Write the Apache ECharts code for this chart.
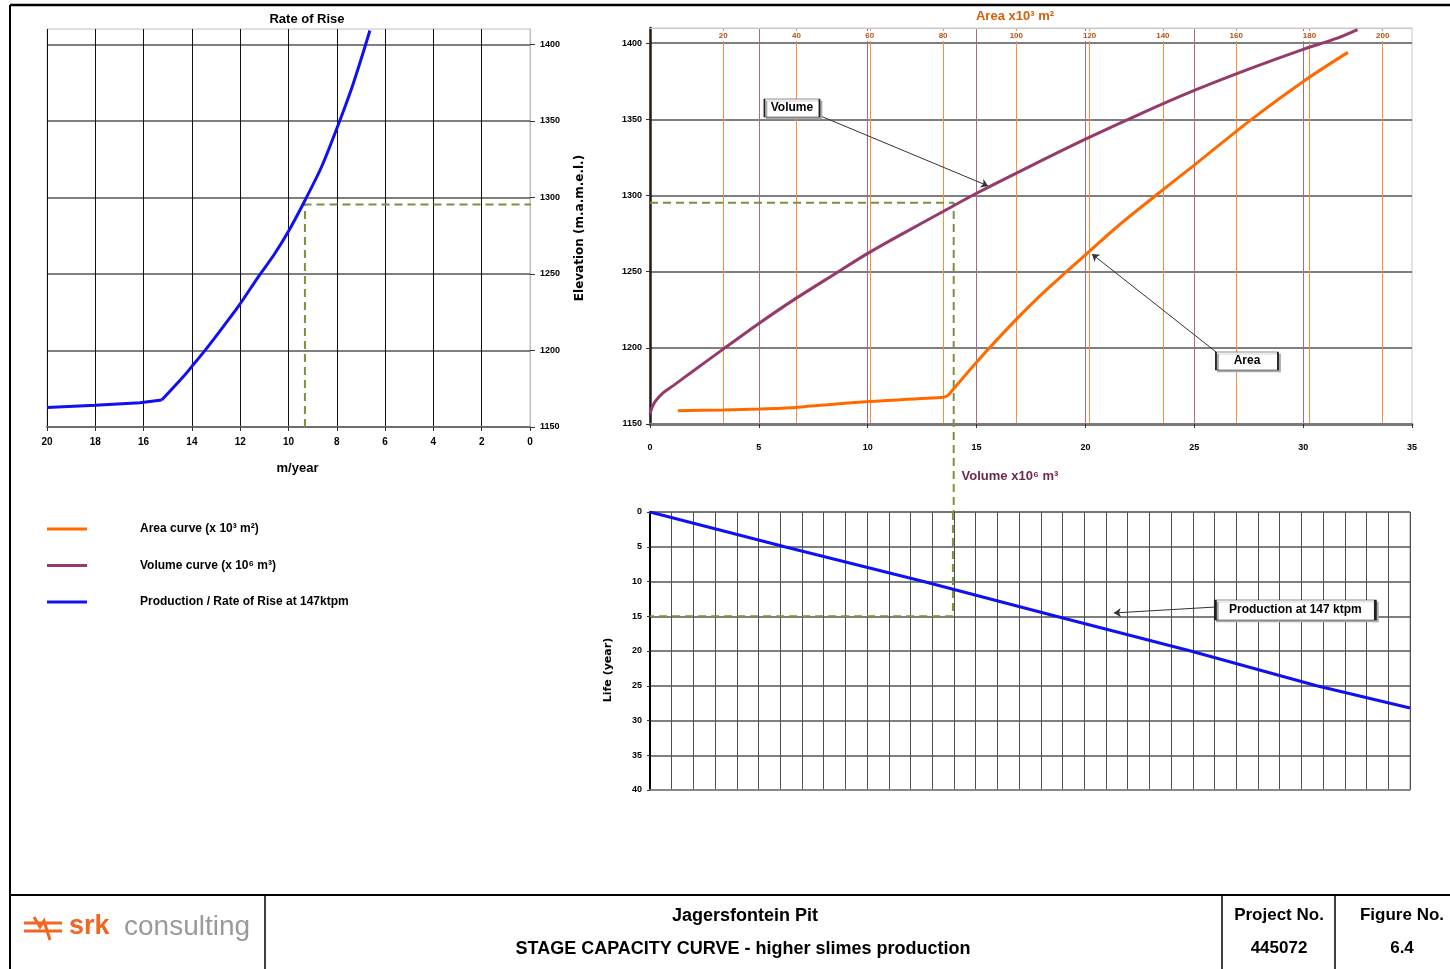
<!DOCTYPE html>
<html><head><meta charset="utf-8">
<script src="https://cdn.jsdelivr.net/npm/echarts@6/dist/echarts.min.js"></script>
<style>html,body{margin:0;padding:0;background:#fff}#c{width:1450px;height:969px}</style>
</head><body><div id="c"></div>
<script>
const FONT = "'Liberation Sans Narrow','Arial Narrow','Liberation Sans',Arial,sans-serif";
const WIDE = "'DejaVu Sans','Verdana',sans-serif";

// Rate of Rise (m/year) vs elevation (m.a.m.s.l.)
const rateValues = [20, 18, 16.15, 15.25, 14.36, 14.0, 13.39, 12.7, 12.04, 11.25, 10.6, 10.03, 9.32, 8.63, 7.94, 7.38, 6.97, 6.63];
const rateElev   = [1162.8, 1164.2, 1165.9, 1167.6, 1182.8, 1189.6, 1201.4, 1215.6, 1229.6, 1248.1, 1262.5, 1277, 1298, 1320, 1347.5, 1371.5, 1391.5, 1409];
const rateKink = 3;   // index where the curve turns sharply

// Volume curve (x10^6 m3) vs elevation
const volumeValues = [0, 0.1, 0.25, 0.6, 1.07, 2, 3.3, 5, 6.6, 8.6, 10, 11.8, 13.4, 15, 17.5, 20, 22.5, 25, 27.5, 30, 31.5, 32.5];
const volumeElev   = [1156.5, 1161, 1165, 1170.5, 1175.2, 1185, 1198.5, 1216, 1231.5, 1249.5, 1262, 1276.5, 1289, 1301.5, 1319.5, 1337, 1353.5, 1369, 1383, 1396, 1403, 1409];

// Area curve (x10^3 m2) vs elevation
const areaValues = [7.6, 19.9, 30.1, 39.7, 50, 59.9, 80.1, 81.3, 89.5, 100.1, 106.8, 113.9, 120, 128, 138.3, 149.1, 164.2, 179, 190.5];
const areaElev   = [1158.7, 1159.2, 1159.9, 1160.9, 1163, 1164.8, 1167.5, 1168.6, 1191.6, 1219, 1235, 1250.5, 1263.5, 1280.5, 1300.5, 1321, 1350, 1376, 1394];
const areaKink = 7;

// Production at 147 ktpm: life (years) vs volume
const lifeVolume = [0, 6.2, 12.6, 18.7, 24.9, 30.7, 35];
const lifeYears  = [0, 5, 10, 15, 20, 25, 28.2];

// Read-off construction (dashed)
const levelElev = 1295.3;
const rateAtLevel = 9.32;
const volAtLevel = 13.95;
const lifeAtLevel = 15;
const rateBridge = -4.97;     // continues the level line across the gap to the right-hand chart
const elevBridge = 1092.2;    // continues the volume line down to the life chart

const LEG_AREA = 'Area curve (x 10³ m²)';
const LEG_VOL  = 'Volume curve (x 10⁶ m³)';
const LEG_PROD = 'Production / Rate of Rise at 147ktpm';

const pair = (xs, ys) => xs.map((x, i) => [x, ys[i]]);
const B = {fontFamily: FONT, fontWeight: 'bold', color: '#000'};
const plain = v => String(v);

const ratePts = pair(rateValues, rateElev);
const areaPts = pair(areaValues, areaElev);

const chart = echarts.init(document.getElementById('c'));
const dash = {color: '#77933c', width: 2, type: [8, 5]};
const boxStyle = {color: '#fff', borderColor: '#222', borderWidth: 1, shadowColor: '#aaa', shadowOffsetX: 2, shadowOffsetY: 2};
const BLUE = '#1010f0', PURPLE = '#953a6a', ORANGE = '#ff6a00';

chart.setOption({
  animation: false,
  backgroundColor: '#fff',
  title: {text: 'Rate of Rise', left: 302, top: 8, textAlign: 'center', textStyle: {...B, fontSize: 13}},
  legend: {
    left: 42, top: 518, orient: 'vertical', itemWidth: 40, itemHeight: 3, itemGap: 24.5,
    icon: 'rect', selectedMode: false,
    data: [LEG_AREA, LEG_VOL, LEG_PROD],
    textStyle: {...B, fontSize: 12, padding: [0, 0, 0, 48]}
  },
  grid: [
    {left: 47, top: 29, width: 483, height: 398, show: true, borderColor: '#c0c0c0', borderWidth: 1},
    {left: 650, top: 28, width: 762, height: 396, show: true, borderColor: '#c8c8c8', borderWidth: 1},
    {left: 650, top: 512, width: 760, height: 278, show: true, borderColor: '#a0a0a0', borderWidth: 1}
  ],
  xAxis: [
    {gridIndex: 0, type: 'value', min: 0, max: 20, interval: 2, inverse: true,
     name: 'm/year', nameLocation: 'middle', nameGap: 35, nameTextStyle: {...B, fontSize: 13, padding: [0, 0, 0, 18]},
     axisLine: {lineStyle: {color: '#6e6e6e', width: 2}},
     axisTick: {show: true, length: 4, lineStyle: {color: '#333'}},
     axisLabel: {...B, fontSize: 10, margin: 10, formatter: plain},
     splitLine: {show: true, lineStyle: {color: '#111', width: 1}}},
    {gridIndex: 1, type: 'value', min: 0, max: 35, interval: 5, position: 'bottom',
     name: 'Volume x10⁶ m³', nameLocation: 'middle', nameGap: 46,
     nameTextStyle: {...B, color: '#6b2a4d', fontSize: 13, padding: [0, 42, 0, 0]},
     axisLine: {onZero: false, lineStyle: {color: '#7a7a7a', width: 3}},
     axisTick: {show: true, length: 4, lineStyle: {color: '#333'}},
     axisLabel: {...B, fontSize: 9, margin: 19, formatter: plain},
     splitLine: {show: true, showMinLine: false, showMaxLine: false, lineStyle: {color: '#a86a8c', width: 1}}},
    {gridIndex: 1, type: 'value', min: 0, max: 208, interval: 20, position: 'top',
     name: 'Area x10³ m²', nameLocation: 'middle', nameGap: 5,
     nameTextStyle: {...B, color: '#d4600c', fontSize: 13, padding: [0, 32, 0, 0]},
     axisLine: {onZero: false, lineStyle: {color: '#c8c8c8', width: 1}},
     axisTick: {show: false},
     axisLabel: {...B, color: '#b85010', fontSize: 8, inside: true, margin: 3, formatter: plain,
                 showMinLabel: false, showMaxLabel: false, backgroundColor: '#fff', padding: [1, 2]},
     splitLine: {show: true, showMinLine: false, showMaxLine: false, lineStyle: {color: '#ff8c3a', width: 1}}},
    {gridIndex: 2, type: 'value', min: 0, max: 35, interval: 1,
     axisLine: {onZero: false, lineStyle: {color: '#909090', width: 1.5}},
     axisTick: {show: false}, axisLabel: {show: false},
     splitLine: {show: true, lineStyle: {color: '#505050', width: 1}}}
  ],
  yAxis: [
    {gridIndex: 0, type: 'value', min: 1150, max: 1410, interval: 50, position: 'right',
     name: 'Elevation (m.a.m.e.l.)', nameLocation: 'middle', nameRotate: 90, nameGap: 44,
     nameTextStyle: {fontFamily: WIDE, fontWeight: 'bold', fontSize: 12, color: '#000'},
     axisLine: {show: true, lineStyle: {color: '#c0c0c0'}},
     axisTick: {show: true, length: 5, lineStyle: {color: '#333'}},
     axisLabel: {...B, fontSize: 9, margin: 10, showMaxLabel: false, formatter: plain},
     splitLine: {show: true, showMaxLine: false, lineStyle: {color: '#555', width: 1.5}}},
    {gridIndex: 1, type: 'value', min: 1150, max: 1410, interval: 50, position: 'left',
     axisLine: {show: true, onZero: false, lineStyle: {color: '#2a1a10', width: 2.5}},
     axisTick: {show: true, length: 4, lineStyle: {color: '#333'}},
     axisLabel: {...B, fontSize: 9, margin: 8, showMaxLabel: false, formatter: plain},
     splitLine: {show: true, showMaxLine: false, lineStyle: {color: '#555', width: 1.5}}},
    {gridIndex: 2, type: 'value', min: 0, max: 40, interval: 5, inverse: true,
     name: 'Life (year)', nameLocation: 'middle', nameRotate: 90, nameGap: 36,
     nameTextStyle: {fontFamily: WIDE, fontWeight: 'bold', fontSize: 11, color: '#000', padding: [0, 0, 0, -38]},
     axisLine: {show: true, onZero: false, lineStyle: {color: '#000', width: 2}},
     axisTick: {show: true, length: 3, lineStyle: {color: '#333'}},
     axisLabel: {...B, fontSize: 9, margin: 8, formatter: plain},
     splitLine: {show: true, lineStyle: {color: '#555', width: 1.5}}}
  ],
  series: [
    {name: LEG_PROD, type: 'line', xAxisIndex: 0, yAxisIndex: 0, data: ratePts.slice(0, rateKink + 1),
     symbol: 'none', lineStyle: {color: BLUE, width: 3}, itemStyle: {color: BLUE}, z: 5},
    {name: LEG_PROD, type: 'line', xAxisIndex: 0, yAxisIndex: 0, data: ratePts.slice(rateKink),
     smooth: 0.3,
     symbol: 'none', lineStyle: {color: BLUE, width: 3}, itemStyle: {color: BLUE}, z: 5},
    {name: 'level-left', type: 'line', xAxisIndex: 0, yAxisIndex: 0, clip: false, symbol: 'none',
     data: [[rateAtLevel, 1150], [rateAtLevel, levelElev], [rateBridge, levelElev]],
     lineStyle: dash, z: 4},
    {name: LEG_VOL, type: 'line', xAxisIndex: 1, yAxisIndex: 1, data: pair(volumeValues, volumeElev),
     smooth: 0.3,
     symbol: 'none', lineStyle: {color: PURPLE, width: 3}, itemStyle: {color: PURPLE}, z: 5,
     markPoint: {silent: true, symbol: 'rect', data: [
       {coord: [6.52, 1357.5], symbolSize: [55, 18], itemStyle: boxStyle,
        label: {show: true, position: 'inside', formatter: 'Volume', ...B, fontSize: 12}},
       {coord: [27.42, 1191.4], symbolSize: [62, 18], itemStyle: boxStyle,
        label: {show: true, position: 'inside', formatter: 'Area', ...B, fontSize: 12}}
     ]},
     markLine: {silent: true, symbol: ['none', 'arrow'], symbolSize: 7, label: {show: false},
       lineStyle: {color: '#333', width: 1, type: 'solid'},
       data: [
         [{coord: [7.72, 1352.9]}, {coord: [15.53, 1306.3]}],
         [{coord: [26.0, 1197.3]}, {coord: [20.3, 1261.6]}]
       ]}},
    {name: LEG_AREA, type: 'line', xAxisIndex: 2, yAxisIndex: 1, data: areaPts.slice(0, areaKink + 1),
     smooth: 0.2,
     symbol: 'none', lineStyle: {color: ORANGE, width: 3}, itemStyle: {color: ORANGE}, z: 5},
    {name: LEG_AREA, type: 'line', xAxisIndex: 2, yAxisIndex: 1, data: areaPts.slice(areaKink),
     smooth: 0.3,
     symbol: 'none', lineStyle: {color: ORANGE, width: 3}, itemStyle: {color: ORANGE}, z: 5},
    {name: 'level-right', type: 'line', xAxisIndex: 1, yAxisIndex: 1, clip: false, symbol: 'none',
     data: [[0, levelElev], [volAtLevel, levelElev], [volAtLevel, elevBridge]],
     lineStyle: dash, z: 4},
    {name: LEG_PROD, type: 'line', xAxisIndex: 3, yAxisIndex: 2, data: pair(lifeVolume, lifeYears),
     symbol: 'none', lineStyle: {color: BLUE, width: 3}, itemStyle: {color: BLUE}, z: 5,
     markPoint: {silent: true, symbol: 'rect', data: [
       {coord: [29.72, 14.1], symbolSize: [160, 20], itemStyle: boxStyle,
        label: {show: true, position: 'inside', formatter: 'Production at 147 ktpm', ...B, fontSize: 12}}
     ]},
     markLine: {silent: true, symbol: ['none', 'arrow'], symbolSize: 7, label: {show: false},
       lineStyle: {color: '#333', width: 1, type: 'solid'},
       data: [[{coord: [26.05, 13.67]}, {coord: [21.36, 14.53]}]]}},
    {name: 'level-bottom', type: 'line', xAxisIndex: 3, yAxisIndex: 2, clip: false, symbol: 'none',
     data: [[volAtLevel, 0], [volAtLevel, lifeAtLevel], [0, lifeAtLevel]],
     lineStyle: dash, z: 4}
  ],
  graphic: [
    {type: 'line', silent: true, z: 100, shape: {x1: 10, y1: 5, x2: 1450, y2: 5}, style: {stroke: '#000', lineWidth: 2.5}},
    {type: 'line', silent: true, z: 100, shape: {x1: 10, y1: 5, x2: 10, y2: 969}, style: {stroke: '#000', lineWidth: 2}},
    {type: 'line', silent: true, z: 100, shape: {x1: 10, y1: 895, x2: 1450, y2: 895}, style: {stroke: '#000', lineWidth: 2}},
    {type: 'line', silent: true, z: 100, shape: {x1: 265, y1: 895, x2: 265, y2: 969}, style: {stroke: '#000', lineWidth: 1.5}},
    {type: 'line', silent: true, z: 100, shape: {x1: 1222, y1: 895, x2: 1222, y2: 969}, style: {stroke: '#000', lineWidth: 1.5}},
    {type: 'line', silent: true, z: 100, shape: {x1: 1335, y1: 895, x2: 1335, y2: 969}, style: {stroke: '#000', lineWidth: 1.5}},
    {type: 'text', silent: true, z: 100, x: 745, y: 916, style: {text: 'Jagersfontein Pit', font: 'bold 18px ' + FONT, fill: '#000', align: 'center', verticalAlign: 'middle'}},
    {type: 'text', silent: true, z: 100, x: 743, y: 949, style: {text: 'STAGE CAPACITY CURVE - higher slimes production', font: 'bold 18px ' + FONT, fill: '#000', align: 'center', verticalAlign: 'middle'}},
    {type: 'text', silent: true, z: 100, x: 1279, y: 915, style: {text: 'Project No.', font: 'bold 17px ' + FONT, fill: '#000', align: 'center', verticalAlign: 'middle'}},
    {type: 'text', silent: true, z: 100, x: 1279, y: 948, style: {text: '445072', font: 'bold 17px ' + FONT, fill: '#000', align: 'center', verticalAlign: 'middle'}},
    {type: 'text', silent: true, z: 100, x: 1402, y: 915, style: {text: 'Figure No.', font: 'bold 17px ' + FONT, fill: '#000', align: 'center', verticalAlign: 'middle'}},
    {type: 'text', silent: true, z: 100, x: 1402, y: 948, style: {text: '6.4', font: 'bold 17px ' + FONT, fill: '#000', align: 'center', verticalAlign: 'middle'}},
    {type: 'polyline', silent: true, z: 100, shape: {points: [[24, 923], [62, 923]]}, style: {stroke: '#f26522', lineWidth: 3}},
    {type: 'polyline', silent: true, z: 100, shape: {points: [[24, 931], [62, 931]]}, style: {stroke: '#f26522', lineWidth: 3}},
    {type: 'polyline', silent: true, z: 100, shape: {points: [[34, 917], [40, 927], [44, 921], [50, 940]]}, style: {stroke: '#f26522', lineWidth: 3, fill: null}},
    {type: 'text', silent: true, z: 100, x: 69, y: 927, style: {text: 'srk', font: 'bold 27px Arial, sans-serif', fill: '#f26522', align: 'left', verticalAlign: 'middle'}},
    {type: 'text', silent: true, z: 100, x: 124, y: 927, style: {text: 'consulting', font: '28px Arial, sans-serif', fill: '#9a9a9a', align: 'left', verticalAlign: 'middle'}}
  ]
});
</script>
</body></html>
